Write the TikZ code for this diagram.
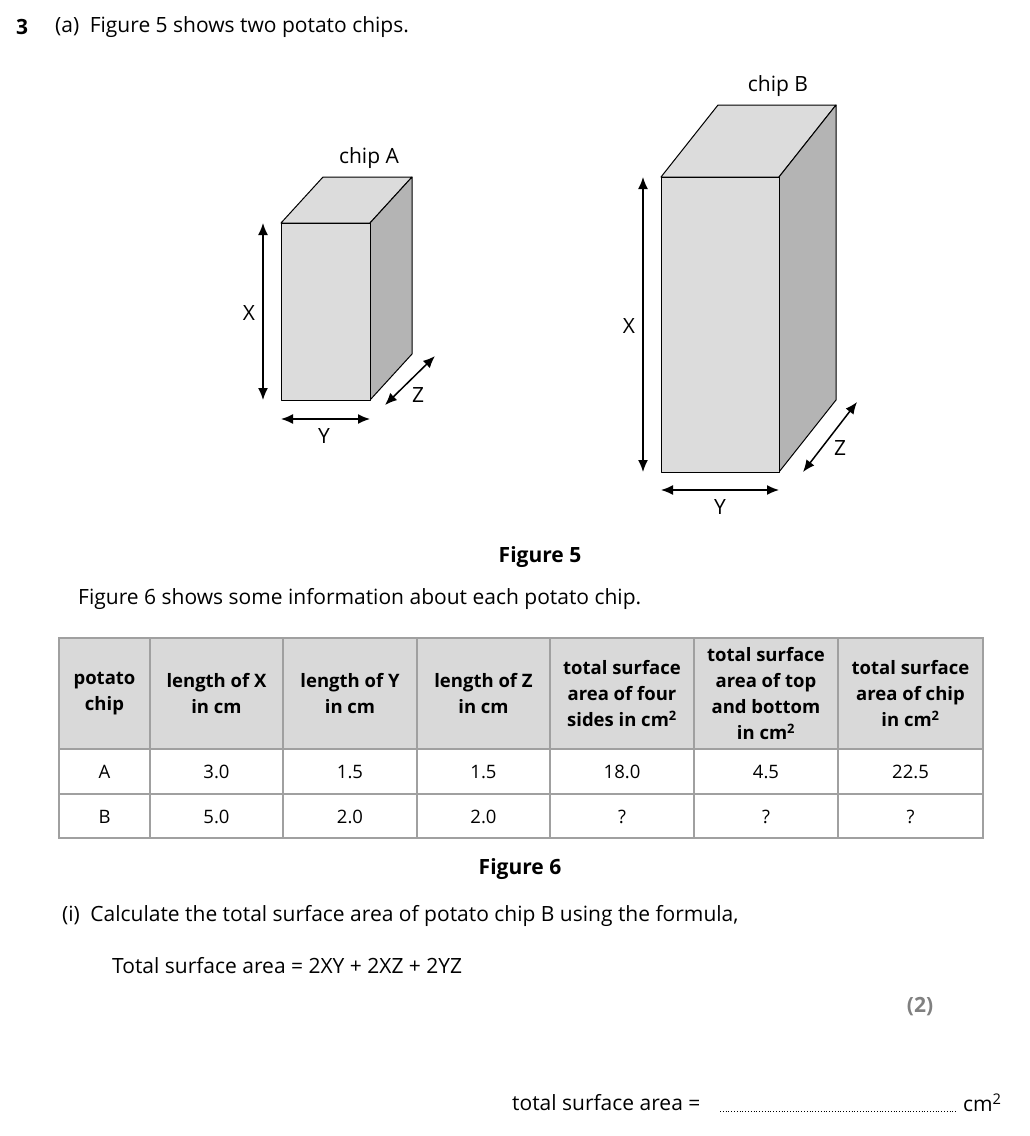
\documentclass[tikz,border=0pt]{standalone}
\usepackage{fontspec}
\setmainfont{Open Sans}
\usetikzlibrary{arrows.meta}
\definecolor{face}{HTML}{DCDCDC}
\definecolor{side}{HTML}{B4B4B4}
\definecolor{hdr}{HTML}{D9D9D9}
\definecolor{grid}{HTML}{A0A0A0}
\begin{document}
\begin{tikzpicture}[x=1pt,y=-1pt,
  body/.style={font=\fontsize{21}{25}\selectfont,inner sep=0pt},
  cell/.style={font=\fontsize{18.5}{22}\selectfont,inner sep=0pt,align=center},
  hcell/.style={font=\bfseries\fontsize{18.5}{26}\selectfont,inner sep=0pt,align=center},
  dim/.style={{Latex[length=12pt,width=10pt]}-{Latex[length=12pt,width=10pt]},line width=1.5pt},
  edge/.style={line width=1pt,line join=round}]
\useasboundingbox (0,0) rectangle (1029,1136);
% header
\node[body,font=\bfseries\fontsize{21}{25}\selectfont,anchor=west] (n3) at (16,27) {3};
\node[body,anchor=west] (qa) at (55,27) {(a)\enspace Figure 5 shows two potato chips.};
% chip A
\fill[face,draw=black,edge] (281,223)--(323,177)--(412,177)--(370,223)--cycle;
\fill[side,draw=black,edge] (370,223)--(412,177)--(412,354)--(370,400)--cycle;
\fill[face,draw=black,edge] (281,223) rectangle (370,400);
\node[body] (ca) at (369,158) {chip A};
\coordinate (ax1) at (263,223); \coordinate (ax2) at (263,400);
\draw[dim] (ax1)--(ax2); \node[body] (lxa) at (249,313) {X};
\coordinate (ay1) at (281,419); \coordinate (ay2) at (370,419);
\draw[dim] (ay1)--(ay2); \node[body] (lya) at (324,436) {Y};
\coordinate (az1) at (385,405); \coordinate (az2) at (435,356);
\draw[dim] (az1)--(az2); \node[body] (lza) at (418,395) {Z};
% chip B
\fill[face,draw=black,edge] (661,177)--(718,105)--(836,105)--(779,177)--cycle;
\fill[side,draw=black,edge] (779,177)--(836,105)--(836,400)--(779,472)--cycle;
\fill[face,draw=black,edge] (661,177) rectangle (779,472);
\node[body] (cb) at (778,86) {chip B};
\coordinate (bx1) at (643,177); \coordinate (bx2) at (643,472);
\draw[dim] (bx1)--(bx2); \node[body] (lxb) at (629,326) {X};
\coordinate (by1) at (661,490); \coordinate (by2) at (779,490);
\draw[dim] (by1)--(by2); \node[body] (lyb) at (720,507) {Y};
\coordinate (bz1) at (803,472); \coordinate (bz2) at (857,402);
\draw[dim] (bz1)--(bz2); \node[body] (lzb) at (840,448) {Z};
\node[body,font=\bfseries\fontsize{21}{25}\selectfont] (f5) at (540,557) {Figure 5};
\node[body,anchor=west] (t6) at (78,599) {Figure 6 shows some information about each potato chip.};
% table
\fill[hdr] (59,638) rectangle (983,749);
\draw[grid,line width=1.5pt] (59,638) rectangle (983,838);
\foreach \y in {749,794} \draw[grid,line width=1.5pt] (59,\y)--(983,\y);
\foreach \x in {150,283,417,550,694,838} \draw[grid,line width=1.5pt] (\x,638)--(\x,838);
\node[hcell] (h1) at (104.5,694) {potato\\chip};
\node[hcell] (h2) at (216.5,694) {length of X\\in cm};
\node[hcell] (h3) at (350,694) {length of Y\\in cm};
\node[hcell] (h4) at (483.5,694) {length of Z\\in cm};
\node[hcell] (h5) at (622,694) {total surface\\area of four\\sides in cm\textsuperscript{2}};
\node[hcell] (h6) at (766,694) {total surface\\area of top\\and bottom\\in cm\textsuperscript{2}};
\node[hcell] (h7) at (910.5,694) {total surface\\area of chip\\in cm\textsuperscript{2}};
\foreach \x/\a/\b [count=\i] in {104.5/A/B,216.5/3.0/5.0,350/1.5/2.0,483.5/1.5/2.0,622/18.0/?,766/4.5/?,910.5/22.5/?}{
  \node[cell] (ra\i) at (\x,772) {\a};
  \node[cell] (rb\i) at (\x,817) {\b};}
\node[body,font=\bfseries\fontsize{21}{25}\selectfont] (f6) at (520,869) {Figure 6};
\node[body,anchor=west] (qi) at (62,916) {(i)\enspace Calculate the total surface area of potato chip B using the formula,};
\node[body,anchor=west] (fm) at (112,966) {Total surface area = 2XY + 2XZ + 2YZ};
\node[body,font=\bfseries\fontsize{21}{25}\selectfont,text=gray] (mk) at (920,1007) {(2)};
\node[body,anchor=west] (ts) at (512,1103) {total surface area =};
\draw[dotted,line width=0.8pt] (720,1111)--(957,1111);
\node[body,anchor=west] (cm) at (963,1103) {cm\textsuperscript{2}};
\end{tikzpicture}
\end{document}
